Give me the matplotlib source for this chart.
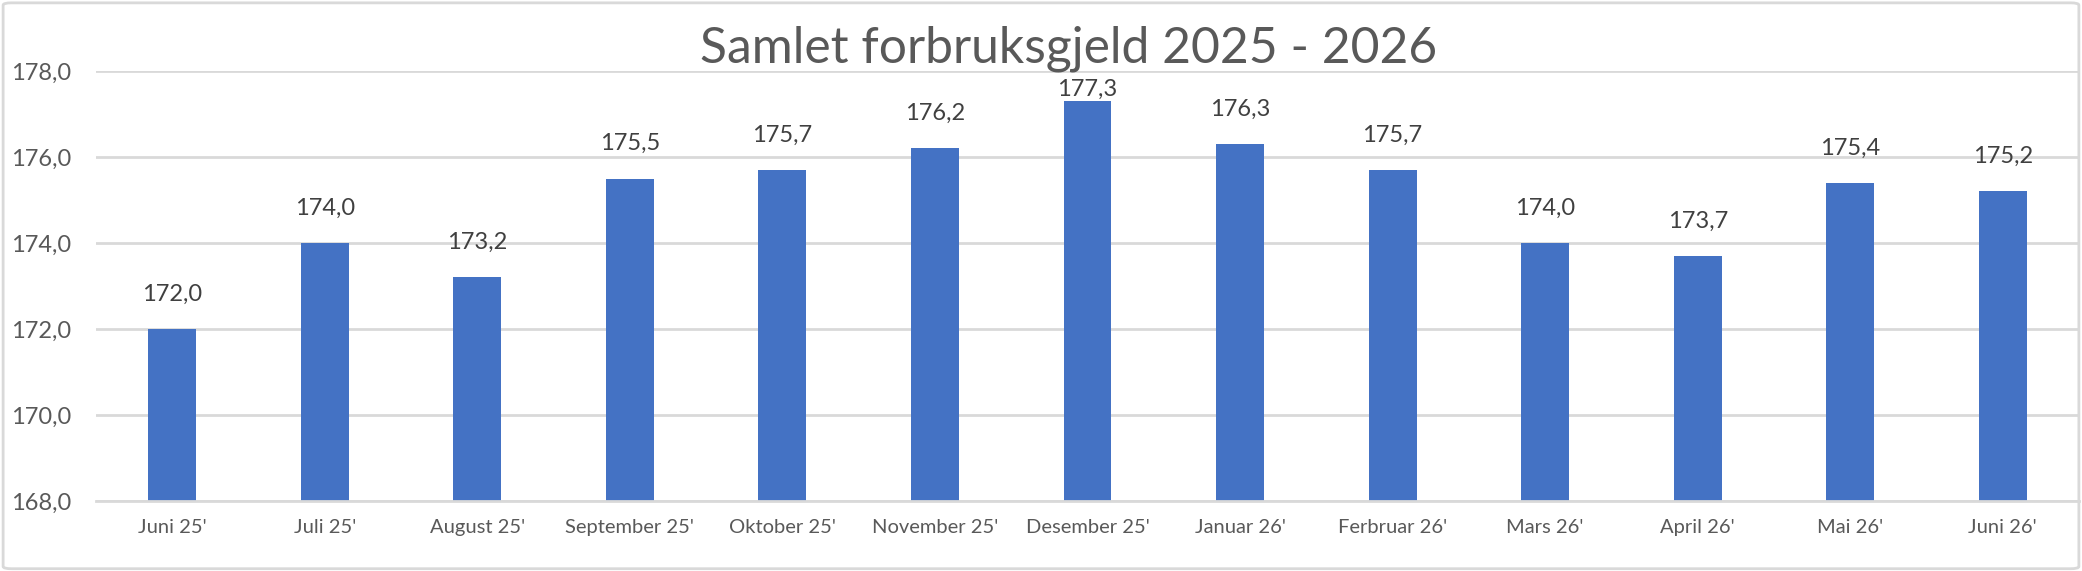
import matplotlib.pyplot as plt
from matplotlib.patches import FancyBboxPatch

# data
months = ["Juni 25'", "Juli 25'", "August 25'", "September 25'", "Oktober 25'",
          "November 25'", "Desember 25'", "Januar 26'", "Ferbruar 26'",
          "Mars 26'", "April 26'", "Mai 26'", "Juni 26'"]
gjeld = [172.0, 174.0, 173.2, 175.5, 175.7, 176.2, 177.3,
         176.3, 175.7, 174.0, 173.7, 175.4, 175.2]
yticks = [168.0, 170.0, 172.0, 174.0, 176.0, 178.0]
title = "Samlet forbruksgjeld 2025 - 2026"

plt.rcParams['font.family'] = ['Lato', 'DejaVu Sans']

fig = plt.figure(figsize=(20.82, 5.71), dpi=100)
ax = fig.add_axes([96/2082, 1 - 501/571, (2079-96)/2082, (501-71)/571])

x = range(len(months))
ax.bar(x, gjeld, width=0.314, color='#4472C4', zorder=3)

ymin, ymax = yticks[0], yticks[-1]
ax.set_ylim(ymin, ymax)
ax.set_xlim(-0.5, len(months) - 0.5)
ax.set_yticks(yticks)
ax.set_yticklabels([f"{t:.1f}".replace('.', ',') for t in yticks])
ax.set_xticks(list(x))
ax.set_xticklabels(months)

ax.tick_params(axis='y', length=0, pad=18, labelsize=17, labelcolor='#595959')
ax.tick_params(axis='x', length=0, pad=13, labelsize=14.5, labelcolor='#595959')

ax.grid(axis='y', color='#D9D9D9', linewidth=2.0, zorder=0)
ax.set_axisbelow(True)
for s in ['top', 'right', 'left']:
    ax.spines[s].set_visible(False)
ax.spines['bottom'].set_color('#D9D9D9')
ax.spines['bottom'].set_linewidth(2.0)
ax.spines['bottom'].set_zorder(4)

# data labels above bars, kept inside the plot area
for i, v in enumerate(gjeld):
    ly = min(v + 0.66, ymax - 0.58)
    ax.text(i, ly, f"{v:.1f}".replace('.', ','), ha='center', va='baseline',
            fontsize=17, color='#404040', zorder=5)

fig.text(1069/2082, 1 - 62/571, title, ha='center', va='baseline',
         fontsize=35.8, color='#595959')

border = FancyBboxPatch((0.0015, 0.004), 0.997, 0.991, transform=fig.transFigure,
                        boxstyle='round,pad=0,rounding_size=0.004',
                        facecolor='none', edgecolor='#D9D9D9', linewidth=2.0)
fig.patches.append(border)

fig.savefig('out.png', dpi=100, facecolor='white')
